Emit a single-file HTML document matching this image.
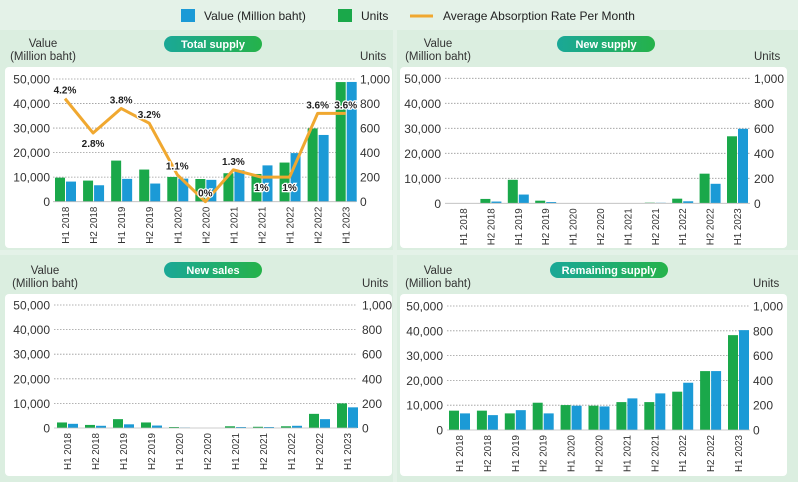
<!DOCTYPE html>
<html><head><meta charset="utf-8"><style>
html,body{margin:0;padding:0;background:#e4f2e8;}
svg{display:block;font-family:"Liberation Sans",sans-serif;}
</style></head><body>
<svg id="c" width="798" height="482" xmlns="http://www.w3.org/2000/svg">
<rect x="0" y="0" width="798" height="482" fill="#e4f2e8"/>
<g>
<rect x="181" y="9" width="14" height="13" fill="#1b9ad6"/>
<text x="204" y="20" font-size="12" fill="#222">Value (Million baht)</text>
<rect x="338" y="9" width="14" height="13" fill="#1aa84a"/>
<text x="361" y="20" font-size="12" fill="#222">Units</text>
<line x1="410" y1="16" x2="433" y2="16" stroke="#f0a830" stroke-width="3"/>
<text x="443" y="20" font-size="12" fill="#222">Average Absorption Rate Per Month</text>
</g>
</svg>
<script>
const categories=["H1 2018","H2 2018","H1 2019","H2 2019","H1 2020","H2 2020","H1 2021","H2 2021","H1 2022","H2 2022","H1 2023"];
const leftTicks=["0","10,000","20,000","30,000","40,000","50,000"];
const rightTicks=["0","200","400","600","800","1,000"];
const totalUnits=[196,172,335,262,202,185,232,226,319,597,975];
const totalValue=[8200,6700,9300,7400,9400,8900,12800,14800,19800,27200,48800];
const totalRate=[4.2,2.8,3.8,3.2,1.1,0,1.3,1,1,3.6,3.6];
const rateLabelBelow=[false,true,false,false,false,false,false,true,true,false,false];
const newUnits=[0,35,188,21,0,0,0,5,37,237,536];
const newValue=[0,700,3500,500,0,0,0,200,800,7800,29800];
const salesUnits=[45,25,72,45,8,0,14,10,14,115,200];
const salesValue=[1700,900,1500,1000,200,0,400,400,900,3600,8400];
const remUnits=[156,156,134,220,201,196,225,225,309,475,765];
const remValue=[6700,6000,8000,6700,9800,9500,12750,14760,19060,23760,40270];

const NS="http://www.w3.org/2000/svg";
const svg=document.getElementById('c');
function mk(tag,attrs,parent){const e=document.createElementNS(NS,tag);for(const k in attrs)e.setAttribute(k,attrs[k]);(parent||svg).appendChild(e);return e;}

function panel(p){
  const g=mk('g',{});
  
  
  const bg=mk('rect',{x:p.px,y:p.py,width:p.pw,height:p.ph,fill:'#dbeee0'},g);
  
  
  const wh=mk('rect',{x:p.wx,y:p.wy,width:p.ww,height:p.wh,rx:4,fill:'#ffffff'},g);
  
  
  const grad=mk('linearGradient',{id:'gr'+p.name,x1:'0',x2:'1',y1:'0',y2:'0'},g);
  mk('stop',{offset:'0','stop-color':'#1aa897'},grad);mk('stop',{offset:'1','stop-color':'#25b24a'},grad);
  const pill=mk('rect',{x:p.tx-p.tw/2,y:p.ty-8,width:p.tw,height:16,rx:8,fill:'url(#gr'+p.name+')'},g);
  
  
  const tt=mk('text',{x:p.tx,y:p.ty+4,'font-size':11,'font-weight':'bold',fill:'#fff','text-anchor':'middle'},g);
  tt.textContent=p.title;
  
  
  const at1=mk('text',{x:p.vx,y:p.wy-20,'font-size':11.5,fill:'#333','text-anchor':'middle'},g);
  at1.textContent='Value';
  
  
  const at2=mk('text',{x:p.vx,y:p.wy-7,'font-size':11.5,fill:'#333','text-anchor':'middle'},g);
  at2.textContent='(Million baht)';
  
  
  const at3=mk('text',{x:p.rx,y:p.wy-7,'font-size':11.5,fill:'#333'},g);
  at3.textContent='Units';
  
  
  const yV=v=>p.y0-(v/50000)*(p.y0-p.y1);
  const yU=u=>yV(u*50);
  const xG=i=>p.x0+i*p.step;
  for(let k=0;k<leftTicks.length;k++){
    const y=yV(k*10000);
    if(k>0){const gl=mk('line',{x1:p.gx1,x2:p.gx2,y1:y,y2:y,stroke:'#999','stroke-width':0.8,'stroke-dasharray':'1.5 1.5'},g);
      
      }
    const lt=mk('text',{x:p.lx,y:y+4.5,'font-size':12,fill:'#333','text-anchor':'end'},g);
    lt.textContent=leftTicks[k];
    
    
    const rt=mk('text',{x:p.rx,y:y+4.5,'font-size':12,fill:'#333'},g);
    rt.textContent=rightTicks[k];
    
    
  }
  const bw=10;
  categories.forEach((c,i)=>{
    const x=xG(i);
    const gu=mk('rect',{x:x,y:yU(p.units[i]),width:bw,height:p.y0-yU(p.units[i]),fill:'#1aa84a'},g);
    
    
    const bv=mk('rect',{x:x+bw+1,y:yV(p.values[i]),width:bw,height:p.y0-yV(p.values[i]),fill:'#1b9ad6'},g);
    
    
    const cx=x+bw+4;const ty=p.y0+5;
    const xl=mk('text',{x:cx,y:ty,'font-size':10.5,fill:'#333','text-anchor':'end',textLength:37,lengthAdjust:'spacingAndGlyphs',transform:'rotate(-90 '+cx+' '+ty+')'},g);
    xl.textContent=c;
    
    
  });
  mk('line',{x1:p.gx1,x2:p.gx2,y1:p.y0,y2:p.y0,stroke:'#bbb','stroke-width':0.8},g);
  if(p.rate){
    const yR=r=>yU(r*200);
    const pts=p.rate.map((r,i)=>(xG(i)+bw)+','+yR(r)).join(' ');
    const pl=mk('polyline',{points:pts,fill:'none',stroke:'#f0a830','stroke-width':3,'stroke-linejoin':'round'},g);
    
    
    p.rate.forEach((r,i)=>{
      const y=rateLabelBelow[i]?yR(r)+14:yR(r)-5;
      const rl=mk('text',{x:xG(i)+bw,y:y,'font-size':10,'font-weight':'bold',fill:'#222','text-anchor':'middle',stroke:'#fff','stroke-width':2.5,'paint-order':'stroke'},g);
      rl.textContent=r+'%';
      
      
    });
  }
}
panel({name:'total-supply',title:'Total supply',units:totalUnits,values:totalValue,rate:totalRate,
  px:0,py:30,pw:393,ph:220,wx:5,wy:67,ww:387,wh:181,tx:213,ty:44,tw:98,vx:43,rx:360,lx:50,
  y0:201.7,y1:79,x0:55,step:28.07,gx1:53,gx2:356});
panel({name:'new-supply',title:'New supply',units:newUnits,values:newValue,
  px:397,py:30,pw:401,ph:220,wx:400,wy:67,ww:387,wh:181,tx:606,ty:44,tw:98,vx:438,rx:754,lx:441,
  y0:203.3,y1:78.3,x0:453,step:27.4,gx1:445,gx2:750});
panel({name:'new-sales',title:'New sales',units:salesUnits,values:salesValue,
  px:0,py:255,pw:393,ph:227,wx:5,wy:294,ww:387,wh:182,tx:213,ty:270,tw:98,vx:45,rx:362,lx:50,
  y0:428,y1:305,x0:57,step:28,gx1:54,gx2:357});
panel({name:'remaining-supply',title:'Remaining supply',units:remUnits,values:remValue,
  px:397,py:255,pw:401,ph:227,wx:400,wy:294,ww:387,wh:182,tx:609,ty:270,tw:118,vx:438,rx:753,lx:443,
  y0:430,y1:306,x0:449,step:27.9,gx1:447,gx2:750});
</script>
</body></html>
